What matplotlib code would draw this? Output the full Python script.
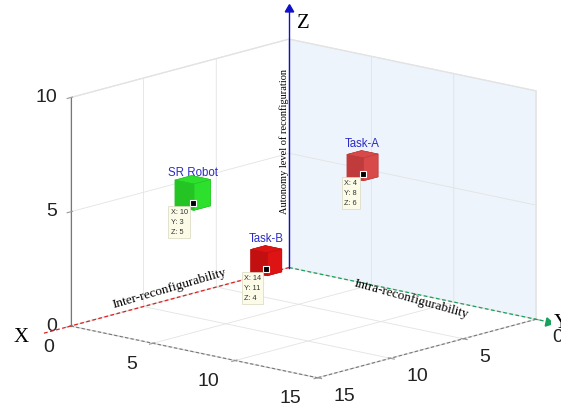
import matplotlib.pyplot as plt

# data tips (X, Y, Z)
names = ['SR Robot', 'Task-A', 'Task-B']
pos_x = [10, 4, 14]
pos_y = [3, 8, 11]
pos_z = [5, 6, 4]
cube_size = [1.15, 1.0, 1.0]
cube_colors = ['#2ee02e', '#d84a4a', '#de1414']
side_colors = ['#25c425', '#c03c3c', '#c20f0f']

xy_ticks = [0, 5, 10, 15]
z_ticks = [0, 5, 10]

plt.rcParams['font.family'] = 'Liberation Sans'
plt.rcParams['grid.color'] = '#e3e3e3'
plt.rcParams['grid.linewidth'] = 0.6

fig = plt.figure(figsize=(5.61, 4.05), dpi=100)
ax = fig.add_axes([0.0767, -0.1574, 0.9036, 1.2517], projection='3d')
ax.computed_zorder = False
ax.set_proj_type('ortho')
ax.view_init(elev=13.7, azim=41.5)
ax.set_xlim(0, 15)
ax.set_ylim(0, 15)
ax.set_zlim(0, 10)
ax.set_box_aspect((15, 15, 10.7))

ax.set_xticks(xy_ticks)
ax.set_yticks(xy_ticks)
ax.set_zticks(z_ticks)
ax.tick_params(labelsize=14, labelcolor='#222222', color='#999999')
ax.tick_params(axis='x', pad=4.5)
ax.tick_params(axis='y', pad=6)
ax.tick_params(axis='z', pad=-2.5)

ax.xaxis.set_pane_color((0.93, 0.955, 0.985, 1.0))
ax.yaxis.set_pane_color((1, 1, 1, 1))
ax.zaxis.set_pane_color((1, 1, 1, 1))
for a in (ax.xaxis, ax.yaxis, ax.zaxis):
    a.pane.set_edgecolor('#e3e3e3')
    a.line.set_color('#777777')
    a.line.set_linewidth(0.8)
ax.xaxis.line.set_linestyle((0, (3, 2)))
ax.yaxis.line.set_linestyle((0, (3, 2)))

# custom axis arrows
ax.plot([0, 17.7], [0, 0], [0, 0], color='#e02020', ls=(0, (3, 2)), lw=0.9, zorder=2)
ax.plot([17.7], [0], [0], marker=(3, 0, 105), color='#e02020', ms=7, zorder=2)
ax.plot([0, 0], [0, 15.7], [0, 0], color='#1aa05a', ls=(0, (3, 2)), lw=0.9, zorder=2)
ax.plot([0], [15.7], [0], marker=(3, 0, -102), color='#1aa05a', ms=7, zorder=2)
ax.plot([0, 0], [0, 0], [0, 11.3], color='#1010c8', lw=1.0, zorder=2)
ax.plot([0], [0], [11.3], marker=(3, 0, 0), color='#1010c8', ms=7, zorder=2)

serif = 'Liberation Serif'
ax.text(17.9, 0, 0, 'X', ha='right', va='center', fontsize=15, family=serif)
ax.text(0, 16.1, 0, 'Y', ha='left', va='center', fontsize=15, family=serif)
ax.text(0, 0.5, 10.75, 'Z', ha='left', va='center', fontsize=15, family=serif)
ax.text(8.1, 0, 0.2, 'Inter-reconfigurability', (1, 0, -0.015), ha='center', va='bottom',
        rotation_mode='anchor', fontsize=9.5, family=serif)
ax.text(0, 7.5, 0, 'Intra-reconfigurability', (0, 1, -0.05), ha='center', va='top',
        rotation_mode='anchor', fontsize=9.5, family=serif)
ax.text(0, 0, 5.5, 'Autonomy level of reconfiguration', 'z', ha='right', va='center',
        fontsize=7.5, family=serif)

# cubes, markers and data tips
for i, name in enumerate(names):
    x, y, z, s = pos_x[i], pos_y[i], pos_z[i], cube_size[i]
    c, cs = cube_colors[i], side_colors[i]
    # face order: bottom, top, -y, +y, -x, +x
    ax.bar3d(x - s / 2, y - s / 2, z - 0.15, s, s, s,
             color=[c, c, c, c, c, cs], shade=False,
             edgecolor=cs, linewidth=0.4, zorder=3)
    ax.scatter([x], [y], [z], marker='s', s=14, c='black', edgecolors='white',
               linewidths=0.8, depthshade=False, zorder=4)
    ax.text(x, y, z + 1.05, name, ha='center', va='bottom', fontsize=8.3,
            color='#2b2bc8', zorder=5)
    ax.text(x + 0.35, y, z - 0.2, f'X: {x}\nY: {y}\nZ: {z}', ha='right', va='top',
            multialignment='left', fontsize=5.3, linespacing=1.6, color='#333333',
            zorder=5,
            bbox=dict(boxstyle='square,pad=0.3', fc='#fbfbe8', ec='#d8d8c0', lw=0.5))

fig.canvas.draw()
plt.setp(ax.get_xticklabels(), ha='left', va='center')
plt.setp(ax.get_yticklabels(), ha='right', va='center')
plt.setp(ax.get_zticklabels(), ha='right', va='center')

fig.savefig('out.png', dpi=100)
